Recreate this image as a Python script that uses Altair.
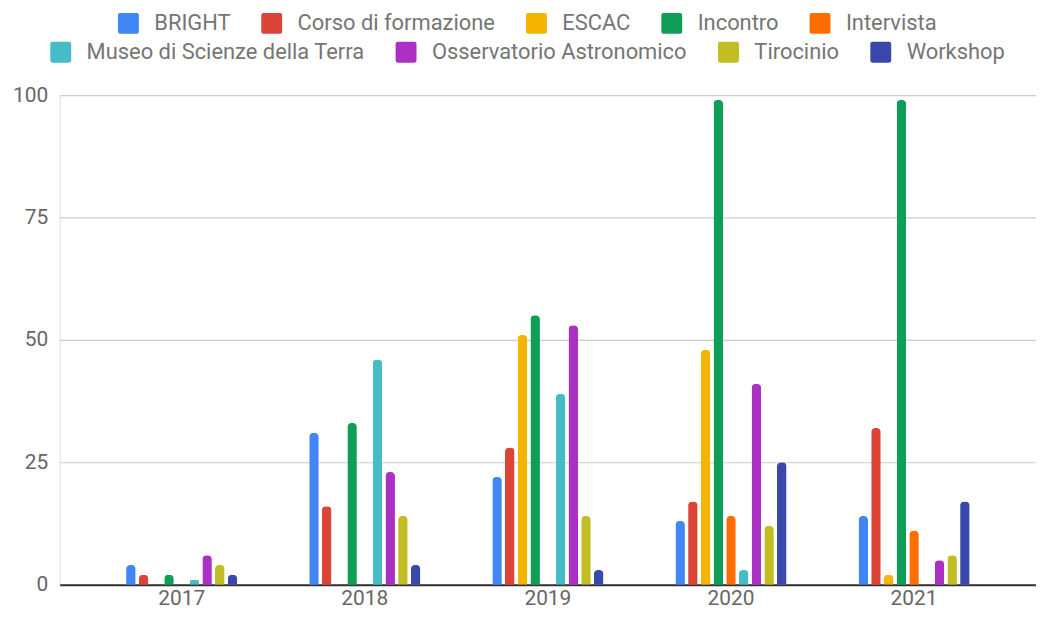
import altair as alt
import pandas as pd

years = ["2017", "2018", "2019", "2020", "2021"]
series = ["BRIGHT", "Corso di formazione", "ESCAC", "Incontro", "Intervista",
          "Museo di Scienze della Terra", "Osservatorio Astronomico", "Tirocinio", "Workshop"]
colors = ["#4285F4", "#DB4437", "#F4B400", "#0F9D58", "#FF6D01",
          "#46BDC6", "#AB30C4", "#C2BD23", "#3949AB"]

bright = [4, 31, 22, 13, 14]
corso = [2, 16, 28, 17, 32]
escac = [0, 0, 51, 48, 2]
incontro = [2, 33, 55, 99, 99]
intervista = [0, 0, 0, 14, 11]
museo = [1, 46, 39, 3, 0]
osservatorio = [6, 23, 53, 41, 5]
tirocinio = [4, 14, 14, 12, 6]
workshop = [2, 4, 3, 25, 17]

values = [bright, corso, escac, incontro, intervista, museo, osservatorio, tirocinio, workshop]
rows = []
for s, vals in zip(series, values):
    for y, v in zip(years, vals):
        rows.append({"year": y, "series": s, "value": v})
df = pd.DataFrame(rows)

row1 = series[:5]
row2 = series[5:]
sym = "M-1,-0.8Q-1,-1,-0.8,-1H0.8Q1,-1,1,-0.8V0.8Q1,1,0.8,1H-0.8Q-1,1,-1,0.8Z"


def layer(names, cols, lx, ly):
    return alt.Chart(df).transform_filter(
        alt.FieldOneOfPredicate(field="series", oneOf=names)
    ).transform_filter("datum.value > 0").mark_bar(
        cornerRadiusTopLeft=4, cornerRadiusTopRight=4
    ).encode(
        x=alt.X("year:N", sort=years,
                scale=alt.Scale(paddingInner=0.393, paddingOuter=0.3625),
                axis=alt.Axis(title=None, labelAngle=0, ticks=False, domainColor="#333333",
                              domainWidth=2, labelFontSize=21, labelColor="#666666",
                              labelPadding=3, grid=False)),
        xOffset=alt.XOffset("series:N", scale=alt.Scale(domain=series, paddingInner=0.25)),
        y=alt.Y("value:Q", scale=alt.Scale(domain=[0, 100]),
                axis=alt.Axis(title=None, values=[0, 25, 50, 75, 100], domain=False, ticks=False,
                              labelFontSize=21, labelColor="#666666", labelPadding=12,
                              gridColor="#cccccc", gridWidth=1.2)),
        color=alt.Color("series:N", scale=alt.Scale(domain=names, range=cols),
                        legend=alt.Legend(orient="none", legendX=lx, legendY=ly, direction="horizontal",
                                          title=None, symbolType=sym, symbolSize=441,
                                          symbolStrokeWidth=0, symbolOpacity=1,
                                          labelFontSize=22, labelColor="#757575", labelLimit=500,
                                          labelOffset=15, columnPadding=30)),
    )


chart = alt.layer(
    layer(row1, colors[:5], 58, -83),
    layer(row2, colors[5:], -10, -54),
).resolve_scale(color="independent").properties(
    width=981, height=492,
    autosize=alt.AutoSizeParams(type="none"),
    padding={"left": 52, "top": 86, "right": 0, "bottom": 24},
).configure_view(stroke=None).configure(font="Roboto")

chart.save("out.html", embed_options={"renderer": "svg", "actions": False})
